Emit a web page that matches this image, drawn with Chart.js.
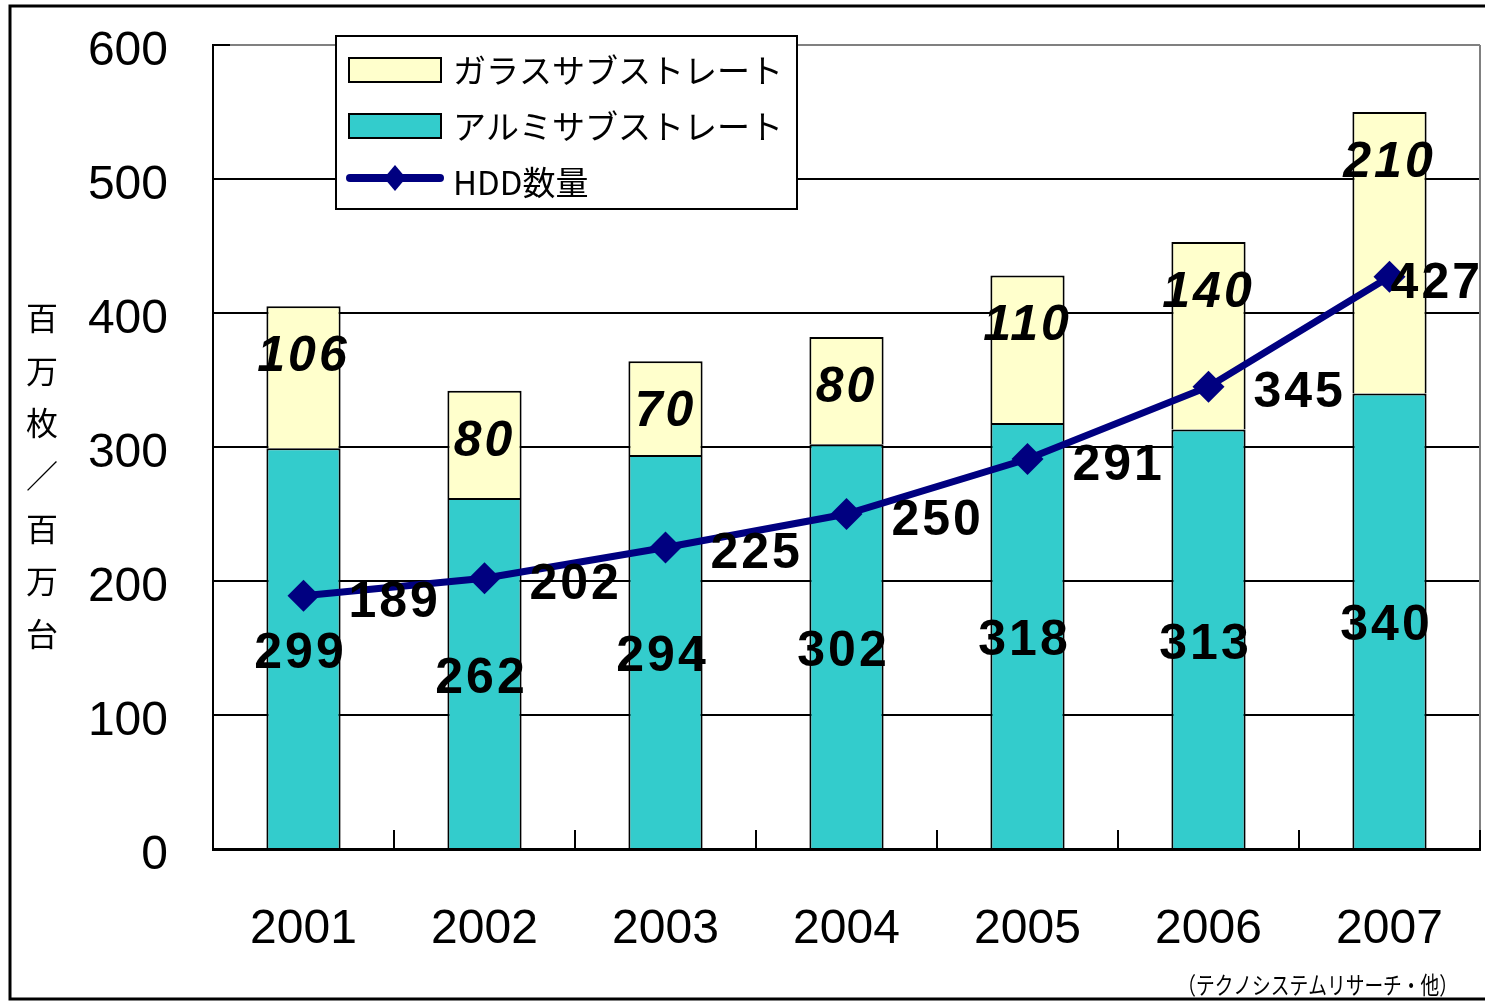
<!DOCTYPE html>
<html>
<head>
<meta charset="utf-8">
<script src="https://cdn.jsdelivr.net/npm/chart.js@4.4.1/dist/chart.umd.min.js"></script>
<style>
html,body{margin:0;padding:0;background:#fff;overflow:hidden;}
#wrap{width:1485px;height:1001px;position:relative;}
</style>
</head>
<body>
<div id="wrap"><canvas id="c" width="1485" height="1001"></canvas></div>
<script>
// ---- data ----
const years = ['2001', '2002', '2003', '2004', '2005', '2006', '2007'];
const aluminumValues = [299, 262, 294, 302, 318, 313, 340];
const glassValues = [106, 80, 70, 80, 110, 140, 210];
const hddValues = [189, 202, 225, 250, 291, 345, 427];
const seriesNames = ['アルミサブストレート', 'ガラスサブストレート', 'HDD数量'];
const yMin = 0, yMax = 600, yStep = 100;
const axisTitleChars = ['百', '万', '枚', '／', '百', '万', '台'];
const sourceNote = '（テクノシステムリサーチ・他）';

// ---- styles ----
const TEAL = '#33CCCC', CREAM = '#FFFFCC', NAVY = '#000080';
const NUM_FONT = "'Liberation Sans', Arial, sans-serif";
const JP_FONT = "'Noto Sans CJK JP', sans-serif";

const framePlugin = {
  id: 'frame',
  beforeDraw(chart) {
    const ctx = chart.ctx;
    ctx.save();
    ctx.fillStyle = '#fff';
    ctx.fillRect(0, 0, chart.width, chart.height);
    ctx.strokeStyle = '#000';
    ctx.lineWidth = 3;
    ctx.beginPath();
    ctx.moveTo(chart.width, 6); ctx.lineTo(10, 6); ctx.lineTo(10, 999); ctx.lineTo(chart.width, 999);
    ctx.stroke();
    ctx.restore();
  },
  beforeDatasetsDraw(chart) {
    const {ctx, chartArea: a, scales} = chart;
    ctx.save();
    ctx.strokeStyle = '#808080';
    ctx.lineWidth = 2;
    ctx.beginPath();
    ctx.moveTo(a.right, a.top); ctx.lineTo(a.right, a.bottom);
    ctx.stroke();
    ctx.strokeStyle = '#000';
    ctx.lineWidth = 2;
    scales.y.ticks.forEach(t => {
      const py = scales.y.getPixelForValue(t.value);
      ctx.beginPath(); ctx.moveTo(a.left, py); ctx.lineTo(a.left + 17, py); ctx.stroke();
    });
    const n = years.length;
    const cw = (a.right - a.left) / n;
    for (let k = 1; k <= n; k++) {
      const px = Math.round(a.left + k * cw);
      ctx.beginPath(); ctx.moveTo(px, a.bottom); ctx.lineTo(px, a.bottom - 19); ctx.stroke();
    }
    ctx.restore();
  },
  afterDatasetsDraw(chart) {
    const {ctx, chartArea: a} = chart;
    ctx.save();
    ctx.fillStyle = '#000';
    ctx.textBaseline = 'middle';
    ctx.textAlign = 'center';
    try { ctx.letterSpacing = '3px'; } catch (e) {}
    const alMeta = chart.getDatasetMeta(0);
    ctx.font = `bold 50px ${NUM_FONT}`;
    alMeta.data.forEach((el, i) => {
      const cy = (el.y + el.base) / 2 + 6;
      ctx.fillText(String(aluminumValues[i]), el.x - 3, cy);
    });
    const glMeta = chart.getDatasetMeta(1);
    ctx.font = `italic bold 50px ${NUM_FONT}`;
    glMeta.data.forEach((el, i) => {
      ctx.fillText(String(glassValues[i]), el.x, el.y + 51);
    });
    const lnMeta = chart.getDatasetMeta(2);
    ctx.font = `bold 50px ${NUM_FONT}`;
    ctx.textAlign = 'left';
    lnMeta.data.forEach((el, i) => {
      const txt = String(hddValues[i]);
      const w = ctx.measureText(txt).width;
      let x = el.x + 45;
      if (x + w > a.right + 3) x = a.right + 3 - w;
      ctx.fillText(txt, x, el.y + 7);
    });
    ctx.restore();
  },
  afterDraw(chart) {
    const ctx = chart.ctx;
    ctx.save();
    ctx.fillStyle = '#000';
    ctx.font = `32px ${JP_FONT}`;
    ctx.textAlign = 'center';
    ctx.textBaseline = 'middle';
    axisTitleChars.forEach((ch, i) => {
      ctx.fillText(ch, 42, 318 + i * 52.6);
    });
    const lx = 336, ly = 36, lw = 461, lh = 173;
    ctx.fillStyle = '#fff';
    ctx.fillRect(lx, ly, lw, lh);
    ctx.strokeStyle = '#000';
    ctx.lineWidth = 2;
    ctx.strokeRect(lx, ly, lw, lh);
    const ds = chart.data.datasets;
    const legendItems = [ds[1], ds[0]];
    legendItems.forEach((d, i) => {
      const sy = 58 + i * 56;
      ctx.fillStyle = d.backgroundColor;
      ctx.fillRect(349, sy, 92, 24);
      ctx.strokeStyle = '#000';
      ctx.lineWidth = 2;
      ctx.strokeRect(349, sy, 92, 24);
      ctx.fillStyle = '#000';
      ctx.font = `33px ${JP_FONT}`;
      ctx.textAlign = 'left';
      ctx.textBaseline = 'middle';
      ctx.fillText(d.label, 453, sy + 12);
    });
    const ld = ds[2];
    ctx.strokeStyle = ld.borderColor;
    ctx.lineWidth = 8;
    ctx.lineCap = 'round';
    ctx.beginPath(); ctx.moveTo(350, 178); ctx.lineTo(440, 178); ctx.stroke();
    ctx.fillStyle = ld.borderColor;
    ctx.beginPath();
    ctx.moveTo(395, 165); ctx.lineTo(406, 178); ctx.lineTo(395, 191); ctx.lineTo(384, 178);
    ctx.closePath(); ctx.fill();
    ctx.fillStyle = '#000';
    ctx.font = `33px ${JP_FONT}`;
    ctx.textAlign = 'left';
    ctx.fillText(ld.label, 453, 182);
    ctx.save();
    ctx.translate(1458, 985);
    ctx.scale(0.78, 1);
    ctx.font = `24px ${JP_FONT}`;
    ctx.textAlign = 'right';
    ctx.textBaseline = 'middle';
    ctx.fillText(sourceNote, 0, 0);
    ctx.restore();
    ctx.restore();
  }
};

new Chart(document.getElementById('c'), {
  type: 'bar',
  data: {
    labels: years,
    datasets: [
      { type: 'bar', label: seriesNames[0], data: aluminumValues, backgroundColor: TEAL,
        borderColor: '#000', borderWidth: 2, order: 1, barPercentage: 0.41, categoryPercentage: 1 },
      { type: 'bar', label: seriesNames[1], data: glassValues, backgroundColor: CREAM,
        borderColor: '#000', borderWidth: 2, order: 1, barPercentage: 0.41, categoryPercentage: 1 },
      { type: 'line', label: seriesNames[2], data: hddValues, borderColor: NAVY, backgroundColor: NAVY,
        borderWidth: 7, pointStyle: 'rectRot', pointRadius: 16, pointBorderWidth: 0,
        pointBackgroundColor: NAVY, tension: 0, order: 0, stack: 'line', yAxisID: 'y2' }
    ]
  },
  options: {
    responsive: false,
    animation: false,
    devicePixelRatio: 1,
    layout: { autoPadding: false, padding: { left: 0, top: 45, right: 5, bottom: 0 } },
    plugins: { legend: { display: false }, tooltip: { enabled: false }, title: { display: false } },
    scales: {
      x: {
        stacked: true,
        offset: true,
        grid: { display: false, drawTicks: false },
        border: { display: true, color: '#000', width: 3 },
        ticks: { color: '#000', font: { family: NUM_FONT, size: 48 }, padding: 52, maxRotation: 0 },
        afterFit: s => { s.height = 152; s.paddingLeft = 0; s.paddingRight = 0; s.paddingTop = 0; s.paddingBottom = 0; }
      },
      y: {
        stacked: true,
        min: yMin, max: yMax,
        grid: { drawTicks: false, lineWidth: 2,
          color: c => (c.tick && c.tick.value === yMax) ? '#808080' : '#000' },
        border: { display: true, color: '#000', width: 2 },
        ticks: { stepSize: yStep, color: '#000', font: { family: NUM_FONT, size: 48 }, padding: 45, labelOffset: 7 },
        afterFit: s => { s.width = 213; s.paddingTop = 0; s.paddingBottom = 0; s.paddingLeft = 0; s.paddingRight = 0; }
      },
      y2: {
        display: false,
        min: yMin, max: yMax
      }
    }
  },
  plugins: [framePlugin]
});
</script>
</body>
</html>
